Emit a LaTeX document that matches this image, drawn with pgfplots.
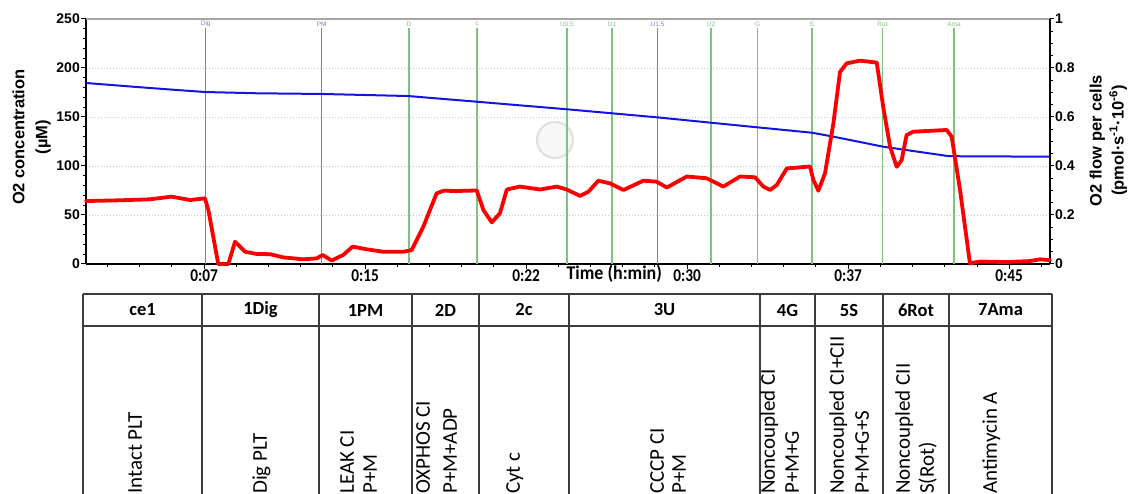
\documentclass[border=0pt]{standalone}
\usepackage{pgfplots}
\pgfplotsset{compat=1.18}
\usepackage{graphicx}
\usepackage{fontspec}
\setmainfont{Carlito}
\newfontfamily\arial{Liberation Sans}

\definecolor{evblue}{RGB}{125,125,200}
\definecolor{evgreen}{RGB}{125,195,125}
\definecolor{o2blue}{RGB}{20,20,225}
\definecolor{flowred}{RGB}{250,0,0}
\definecolor{tblline}{RGB}{60,60,60}

\newcommand\xt[1]{\scalebox{0.85}[1]{#1}}

\pgfplotstableread{
t flow
2.00 0.257
3.58 0.260
4.98 0.264
5.99 0.275
6.84 0.261
7.54 0.268
7.70 0.220
8.16 0.000
8.63 0.000
8.94 0.091
9.41 0.050
9.95 0.041
10.57 0.040
11.19 0.027
12.12 0.019
12.75 0.023
13.02 0.037
13.44 0.014
13.98 0.037
14.42 0.071
15.07 0.060
15.85 0.050
16.78 0.050
17.17 0.057
17.71 0.152
18.33 0.288
18.64 0.299
19.27 0.298
20.20 0.300
20.51 0.220
20.90 0.170
21.28 0.207
21.60 0.304
22.21 0.316
23.15 0.304
23.92 0.316
24.39 0.304
25.01 0.278
25.40 0.295
25.86 0.340
26.41 0.329
27.03 0.302
27.96 0.340
28.58 0.336
29.05 0.312
29.98 0.357
30.91 0.350
31.68 0.316
32.46 0.357
33.16 0.354
33.55 0.316
33.86 0.302
34.17 0.322
34.64 0.390
35.72 0.398
35.88 0.343
36.11 0.299
36.42 0.370
36.81 0.574
37.12 0.784
37.43 0.819
38.05 0.830
38.83 0.822
39.13 0.642
39.45 0.479
39.76 0.397
39.99 0.424
40.22 0.526
40.53 0.540
42.09 0.547
42.32 0.520
42.71 0.302
43.17 0.003
43.64 0.010
44.88 0.008
45.97 0.012
46.43 0.019
46.90 0.016
}\flowtable

\pgfplotstableread{
t conc
2.0 184.7
4.2 180.9
5.76 178.3
7.54 175.5
9.95 174.2
13.0 173.5
17.0 171.4
20.2 165.6
24.39 157.9
28.58 149.7
33.25 139.5
35.8 134
36.8 130
39.13 119.7
42.2 110
46.9 109.5
}\conctable

\begin{document}
\begin{tikzpicture}
\useasboundingbox (0,0) rectangle (1129pt,493pt);

% ---- table below the chart ----
\begin{scope}[x=1pt,y=1pt]
  \draw[tblline, line width=1.3pt] (83,199) -- (1052,199) (83,167) -- (1052,167);
  \foreach \xx in {83,202,319,412,479,569,760,815,883,949,1052}
    \draw[tblline, line width=1.3pt] (\xx,199) -- (\xx,-10);
  \begin{scope}[every node/.style={font=\bfseries\fontsize{18.5}{18.5}\selectfont, anchor=center}]
    \node at (142.5,183) {ce1};
    \node at (260.5,183) {1Dig};
    \node at (365.5,183) {1PM};
    \node at (445.5,183) {2D};
    \node at (524,183) {2c};
    \node at (664.5,183) {3U};
    \node at (787.5,183) {4G};
    \node at (849,183) {5S};
    \node at (916,183) {6Rot};
    \node at (1000.5,183) {7Ama};
  \end{scope}
  \begin{scope}[every node/.style={font=\fontsize{21}{21}\selectfont, anchor=base west, rotate=90, inner sep=0pt}]
    \node at (141.8,-1) {Intact PLT};
    \node at (266.8,-1) {Dig PLT};
    \node at (353.8,-1) {LEAK CI};
    \node at (376.8,-1) {P+M};
    \node at (429.8,-1) {OXPHOS CI};
    \node at (456.8,-1) {P+M+ADP};
    \node at (519.8,-1) {Cyt c};
    \node at (663.8,-1) {CCCP CI};
    \node at (685.8,-1) {P+M};
    \node at (774.8,-1) {Noncoupled CI};
    \node at (798.8,-1) {P+M+G};
    \node at (843.8,-1) {Noncoupled CI+CII};
    \node at (868.8,-1) {P+M+G+S};
    \node at (909.8,-1) {Noncoupled CII};
    \node at (933.8,-1) {S(Rot)};
    \node at (996.8,-1) {Antimycin A};
  \end{scope}
\end{scope}

% ---- left axis: O2 concentration ----
\begin{axis}[
  at={(86pt,229pt)}, anchor=south west,
  scale only axis, width=964pt, height=245pt,
  xmin=2, xmax=46.9, ymin=0, ymax=250,
  axis x line*=bottom, axis y line*=left,
  axis line style={black, line width=1.3pt, -},
  tick align=outside,
  major tick length=5pt, minor tick length=3pt,
  tick style={black, line width=1pt},
  xtick={7.5,15,22.5,30,37.5,45},
  xticklabels={\xt{0:07},\xt{0:15},\xt{0:22},\xt{0:30},\xt{0:37},\xt{0:45}},
  minor xtick={3,4.5,...,46.5},
  ytick={0,50,100,150,200,250},
  minor ytick={0,10,...,250},
  /pgf/number format/assume math mode=true,
  yticklabel style={font=\arial\bfseries\fontsize{14}{14}\selectfont, inner sep=1pt},
  xticklabel style={font=\bfseries\fontsize{18}{18}\selectfont, inner sep=1pt, yshift=1pt},
  ymajorgrids,
  grid style={gray!45, dash pattern=on 1pt off 2pt, line width=0.8pt},
  xlabel={\scalebox{0.92}[1]{Time (h:min)}},
  xlabel style={at={(axis description cs:0.548,0)}, anchor=center, yshift=-10pt,
                font=\bfseries\fontsize{19.5}{19.5}\selectfont},
  ylabel={O2 concentration\\(µM)},
  ylabel style={at={(axis description cs:-0.0565,0.518)}, anchor=center,
                align=center,
                font=\arial\bfseries\fontsize{16.5}{23}\selectfont},
  clip=false,
]
% watermark
\draw[gray!25, line width=2pt, fill=gray!6] (axis cs:23.84,126.5) circle[radius=18pt];
% event markers
\addplot[evblue,  line width=1.5pt] coordinates {(7.575,0) (7.575,241)};
\addplot[evblue,  line width=1.5pt] coordinates {(12.98,0) (12.98,241)};
\addplot[evgreen, line width=1.5pt] coordinates {(17.04,0) (17.04,241)};
\addplot[evgreen, line width=1.5pt] coordinates {(20.21,0) (20.21,241)};
\addplot[evgreen, line width=1.5pt] coordinates {(24.40,0) (24.40,241)};
\addplot[evgreen, line width=1.5pt] coordinates {(26.50,0) (26.50,241)};
\addplot[evblue,  line width=1.5pt] coordinates {(28.62,0) (28.62,241)};
\addplot[evgreen, line width=1.5pt] coordinates {(31.11,0) (31.11,241)};
\addplot[evgreen, line width=1.5pt] coordinates {(33.28,0) (33.28,241)};
\addplot[evgreen, line width=1.5pt] coordinates {(35.81,0) (35.81,241)};
\addplot[evgreen, line width=1.5pt] coordinates {(39.10,0) (39.10,241)};
\addplot[evgreen, line width=1.5pt] coordinates {(42.43,0) (42.43,241)};
\begin{scope}[every node/.style={font=\arial\fontsize{6.5}{6.5}\selectfont, anchor=center, inner sep=0pt}]
\node[text=evblue]  at (axis cs:7.575,245) {Dig};
\node[text=evblue]  at (axis cs:12.98,245) {PM};
\node[text=evgreen] at (axis cs:17.04,245) {D};
\node[text=evgreen] at (axis cs:20.21,245) {c};
\node[text=evgreen] at (axis cs:24.40,245) {U0.5};
\node[text=evgreen] at (axis cs:26.50,245) {U1};
\node[text=evblue]  at (axis cs:28.62,245) {U1.5};
\node[text=evgreen] at (axis cs:31.11,245) {U2};
\node[text=evgreen] at (axis cs:33.28,245) {G};
\node[text=evgreen] at (axis cs:35.81,245) {S};
\node[text=evgreen] at (axis cs:39.10,245) {Rot};
\node[text=evgreen] at (axis cs:42.43,245) {Ama};
\end{scope}
\addplot[o2blue, line width=2pt, line join=round] table[x=t, y=conc] {\conctable};
\draw[gray!70, line width=1.8pt] (rel axis cs:0,1) -- (rel axis cs:1,1);
\end{axis}

% ---- right axis: O2 flow ----
\begin{axis}[
  at={(86pt,229pt)}, anchor=south west,
  scale only axis, width=964pt, height=245pt,
  xmin=2, xmax=46.9, ymin=0, ymax=1,
  axis x line=none, axis y line*=right,
  axis line style={black, line width=1.3pt, -},
  tick align=outside,
  major tick length=4pt, minor tick length=3pt,
  tick style={black, line width=1pt},
  ytick={0,0.2,0.4,0.6,0.8,1},
  minor ytick={0,0.05,...,1},
  /pgf/number format/assume math mode=true,
  yticklabel style={font=\arial\bfseries\fontsize{14}{14}\selectfont, inner sep=1pt},
  ylabel={O2 flow per cells\\(pmol·s\textsuperscript{-1}·10\textsuperscript{-6})},
  ylabel style={at={(axis description cs:1.0605,0.504)}, anchor=center,
                align=center,
                font=\arial\bfseries\fontsize{16.5}{22}\selectfont},
  clip=false,
]
\addplot[flowred, line width=3.8pt, line join=round, line cap=round] table[x=t, y=flow] {\flowtable};
\end{axis}
\end{tikzpicture}
\end{document}
